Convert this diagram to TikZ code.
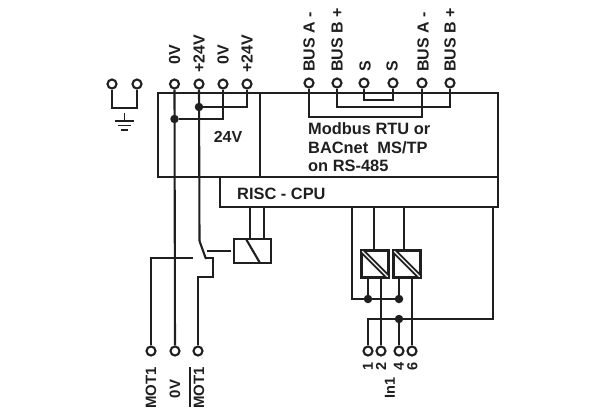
\documentclass[tikz,border=0pt]{standalone}
\usepackage{fontspec}
\setmainfont{Liberation Sans}
\newcommand{\lab}{\fontsize{16}{18}\selectfont\bfseries}
\newcommand{\labs}{\fontsize{15}{18}\selectfont\bfseries}
\newcommand{\labn}{\fontsize{14.5}{18}\selectfont\bfseries}
\definecolor{ink}{gray}{0.12}
\tikzset{
  wire/.style={line width=2.1pt,draw=ink,line cap=butt,line join=miter},
  term/.style={circle,draw=ink,line width=2.1pt,fill=white,minimum size=9pt,inner sep=0pt},
  jdot/.style={circle,fill=ink,minimum size=8.5pt,inner sep=0pt},
  vlab/.style={rotate=90,font=\lab,text=ink,inner sep=0pt},
  vlabs/.style={vlab,font=\labs},
  vlabn/.style={vlab,font=\labn},
  txt/.style={font=\fontsize{16.4}{18}\selectfont\bfseries,text=ink,inner sep=0pt,anchor=west},
  relbox/.style={draw=ink,line width=2.1pt,inner sep=0pt,minimum width=#1},
  optobox/.style={draw=ink,line width=2.1pt,inner sep=0pt,minimum size=26pt}
}
\begin{document}
\begin{tikzpicture}[x=1pt,y=-1pt]
\useasboundingbox (0,0) rectangle (608,416);
% module outline
\node[draw=ink,line width=2.1pt,inner sep=0pt,minimum width=340pt,minimum height=84pt] (mod) at (328,135) {};
\node[draw=ink,line width=2.1pt,inner sep=0pt,minimum width=278pt,minimum height=30pt] (cpu) at (359,192) {};
\coordinate (divt) at (260,93);
\coordinate (divb) at (260,177);
\draw[wire] (divt) -- (divb);
% terminals and junctions
\foreach \n/\x/\y in {ga/112/84,gb/137/84,p1/174.5/84,p2/199/84,p3/223/84,p4/247/84,
  b1/309/83,b2/337/83,b3/364/83,b4/393/83,b5/422/83,b6/450/83,
  m1/151/351,m2/175/351,m3/198/351,i1/368/351,i2/381/351,i4/399/351,i6/412/351}
  {\node[term] (\n) at (\x,\y) {};}
\foreach \n/\x/\y in {d1/174.5/119,d2/199/107,d3/368/299,d4/399/299,d5/399/319}
  {\node[jdot] (\n) at (\x,\y) {};}
% earth link
\coordinate (em) at (124.5,108);
\draw[wire] (ga) |- (em) -| (gb);
\coordinate (e0) at (124.5,113);
\coordinate (e1) at (124.5,121);
\draw[wire,line width=1.6pt] (e0) -- (e1);
\foreach \y/\a/\b in {121/115/134,125.5/118/131,130/121/128}
  {\coordinate (ea) at (\a,\y); \coordinate (eb) at (\b,\y); \draw[wire,line width=1.8pt] (ea) -- (eb);}
% power
\draw[wire] (p1) -- (m2);
\coordinate (s1) at (199.5,241);
\draw[wire] (p2) -- (s1);
\draw[wire] (p3) |- (d1);
\draw[wire] (p4) |- (d2);
% bus links
\coordinate (ba) at (422,117);
\coordinate (bb) at (450,107);
\coordinate (bs) at (393,100);
\draw[wire] (b1) |- (ba) -- (b5);
\draw[wire] (b2) |- (bb) -- (b6);
\draw[wire] (b3) |- (bs) -- (b4);
% switch
\coordinate (s2) at (206,259);
\coordinate (c1) at (193,258);
\coordinate (c2) at (206,258);
\coordinate (c3) at (213,258);
\coordinate (c4) at (213,277);
\coordinate (c5) at (198,277);
\coordinate (a1) at (207,251);
\coordinate (a2) at (231,251);
\draw[wire] (s1) -- (s2);
\draw[wire] (m1) |- (c1);
\draw[wire] (c2) -- (c3) -- (c4) -- (c5) -- (m3);
\draw[wire] (a1) -- (a2);
% relay
\node[relbox=37pt,minimum height=24pt] (rel) at (252.5,251) {};
\coordinate (r1) at (246,239);
\coordinate (r2) at (260,263);
\draw[wire] (r1) -- (r2);
\draw[wire] (250,207) -- (250,239);
\draw[wire] (264,207) -- (264,239);
% isolators
\node[optobox] (o1) at (375,264) {};
\node[optobox] (o2) at (407,264) {};
\foreach \o in {o1,o2}{
  \begin{scope}
    \clip (\o.south west) rectangle (\o.north east);
    \draw[line width=5pt,draw=ink] (\o.north west) -- (\o.south east);
    \draw[line width=1.4pt,draw=white] (\o.north west) -- (\o.south east);
  \end{scope}
  \draw[line width=2.1pt,draw=ink] (\o.south west) rectangle (\o.north east);
}
\coordinate (w1) at (374,207);
\coordinate (w2) at (404,207);
\coordinate (w3) at (352,207);
\coordinate (w4) at (493,207);
\coordinate (w5) at (493,319);
\coordinate (x1) at (374,251);
\coordinate (x2) at (404,251);
\coordinate (y1) at (368,277);
\coordinate (y2) at (399,277);
\coordinate (y3) at (381,277);
\coordinate (y4) at (412,277);
\draw[wire] (w1) -- (x1);
\draw[wire] (w2) -- (x2);
\draw[wire] (w3) |- (d4);
\draw[wire] (d3) -- (y1);
\draw[wire] (d4) -- (y2);
\draw[wire] (y3) -- (i2);
\draw[wire] (y4) -- (i6);
\draw[wire] (i1) |- (w5) -- (w4);
\draw[wire] (d5) -- (i4);
% labels
\node[vlab] (t1) at (174.5,55) {0V};
\node[vlab] (t2) at (199,54) {+24V};
\node[vlab] (t3) at (223,55) {0V};
\node[vlab] (t4) at (247,54) {+24V};
\node[vlab,anchor=west] (u1) at (309,72) {BUS A -};
\node[vlab,anchor=west] (u2) at (337,72) {BUS B +};
\node[vlab,anchor=west] (u3) at (365,72) {S};
\node[vlab,anchor=west] (u4) at (392,72) {S};
\node[vlab,anchor=west] (u5) at (423,72) {BUS A -};
\node[vlab,anchor=west] (u6) at (450,72) {BUS B +};
\node[font=\lab,text=ink,inner sep=0pt] (v) at (228,137) {24V};
\node[txt] (mb1) at (308,129) {Modbus RTU or};
\node[txt] (mb2) at (308,148) {BACnet\ \ MS/TP};
\node[txt] (mb3) at (308,166) {on RS-485};
\node[txt] (risc) at (237,194) {RISC - CPU};
\node[vlabs,anchor=east] (l1) at (151,367) {MOT1};
\node[vlabs] (l2) at (175,389) {0V};
\node[vlabs,anchor=east] (l3) at (199,367) {MOT1};
\coordinate (ov1) at (190,367);
\coordinate (ov2) at (190,407);
\draw[wire,line width=1.6pt] (ov1) -- (ov2);
\node[vlabn,anchor=east] (n1) at (368,362) {1};
\node[vlabn,anchor=east] (n2) at (381,362) {2};
\node[vlabn,anchor=east] (n4) at (399,362) {4};
\node[vlabn,anchor=east] (n6) at (412.5,362) {6};
\node[vlabn] (in) at (390,388) {In1};
\end{tikzpicture}
\end{document}
